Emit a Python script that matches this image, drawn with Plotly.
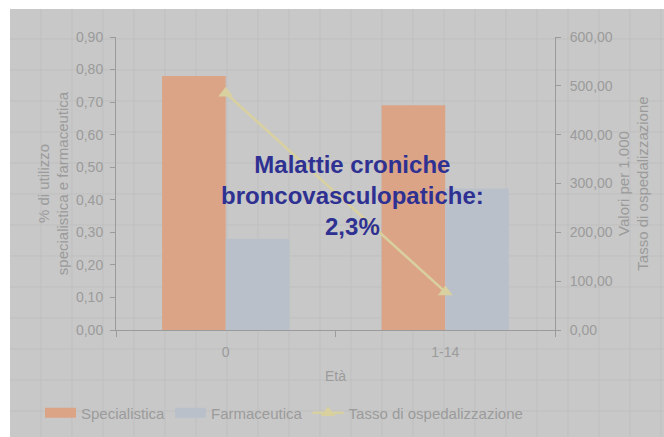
import plotly.graph_objects as go

eta = ['0', '1-14']
specialistica = [0.78, 0.69]
farmaceutica = [0.28, 0.435]
tasso_osp = [485, 78]

W, H = 664, 437
L, T = 116, 37
R, B = W - 555, H - 330
pw, ph = W - L - R, H - T - B

def px_x(x):
    return (x - L) / pw

def px_y(y):
    return (H - B - y) / ph

grigio = '#9b9b9b'
font = 'Liberation Sans, Arial, sans-serif'
col_spec, col_farm, col_tasso = '#dba486', '#b9c0ca', '#d9d0a0'

fig = go.Figure()
fig.add_trace(go.Bar(name='Specialistica', x=eta, y=specialistica, marker_color=col_spec,
                     marker_line_width=0, showlegend=False))
fig.add_trace(go.Bar(name='Farmaceutica', x=eta, y=farmaceutica, marker_color=col_farm,
                     marker_line_width=0, showlegend=False))
# voci di legenda con rettangoli larghi come nell'originale
fig.add_trace(go.Scatter(name='Specialistica', x=[None], y=[None], mode='lines',
                         line=dict(color=col_spec, width=10)))
fig.add_trace(go.Scatter(name='Farmaceutica', x=[None], y=[None], mode='lines',
                         line=dict(color=col_farm, width=10)))
fig.add_trace(go.Scatter(name='Tasso di ospedalizzazione', x=eta, y=tasso_osp, yaxis='y2',
                         mode='lines+markers', line=dict(color=col_tasso, width=2.5),
                         marker=dict(symbol='triangle-up', size=13, color=col_tasso)))

# bordo bianco in alto e a sinistra + texture a quadretti dello sfondo
shapes = [
    dict(type='rect', xref='paper', yref='paper', x0=px_x(0), x1=px_x(W), y0=px_y(0), y1=px_y(9),
         fillcolor='white', line_width=0, layer='below'),
    dict(type='rect', xref='paper', yref='paper', x0=px_x(0), x1=px_x(10), y0=px_y(0), y1=px_y(H),
         fillcolor='white', line_width=0, layer='below'),
]
for gx in range(41, W, 31):
    shapes.append(dict(type='line', xref='paper', yref='paper', x0=px_x(gx), x1=px_x(gx),
                       y0=px_y(9), y1=px_y(H), line=dict(color='#bfbfbf', width=1), layer='below'))
for gy in range(39, H, 31):
    shapes.append(dict(type='line', xref='paper', yref='paper', x0=px_x(10), x1=px_x(W),
                       y0=px_y(gy), y1=px_y(gy), line=dict(color='#bfbfbf', width=1), layer='below'))

fig.update_layout(
    width=W, height=H,
    margin=dict(l=L, r=R, t=T, b=B, autoexpand=False),
    paper_bgcolor='#c8c8c8', plot_bgcolor='rgba(0,0,0,0)',
    separators=',.',
    font=dict(family=font, size=14, color=grigio),
    barmode='group', bargap=0.42, bargroupgap=0,
    shapes=shapes,
    xaxis=dict(type='category', range=[-0.5, 1.5], showgrid=False, showline=True,
               linecolor=grigio, ticks='outside', tickson='boundaries', ticklen=6,
               tickcolor=grigio, ticklabelstandoff=9, automargin=False,
               title=dict(text='Età', standoff=12, font=dict(size=14, color=grigio))),
    yaxis=dict(range=[0, 0.9], dtick=0.1, tickformat='.2f', showgrid=False, zeroline=False,
               showline=True, linecolor=grigio, ticks='outside', ticklen=5, tickcolor=grigio,
               ticklabelstandoff=4, automargin=False,
               title=dict(text='% di utilizzo<br>specialistica e farmaceutica', standoff=3,
                          font=dict(size=15, color=grigio))),
    yaxis2=dict(range=[0, 600], dtick=100, tickformat='.2f', overlaying='y', side='right',
                showgrid=False, zeroline=False, showline=True, linecolor=grigio, ticks='outside',
                ticklen=5, tickcolor=grigio, ticklabelstandoff=6, automargin=False,
                title=dict(text='Valori per 1.000<br>Tasso di ospedalizzazione', standoff=6,
                           font=dict(size=15, color=grigio))),
    legend=dict(orientation='h', x=px_x(40), xanchor='left', y=px_y(413), yanchor='middle',
                bgcolor='rgba(0,0,0,0)', font=dict(size=15, color=grigio), itemwidth=31,
                tracegroupgap=0),
    annotations=[dict(text='<b>Malattie croniche<br>broncovasculopatiche:<br>2,3%</b>',
                      xref='paper', yref='paper', x=px_x(352), y=px_y(195),
                      showarrow=False, font=dict(family=font, size=24, color='#2e3192'),
                      align='center')],
)

# niente margine del body: la figura occupa esattamente la finestra
fig.write_html('out.html', config={'displayModeBar': False},
               post_script="document.body.style.margin='0';"
                           "Plotly.relayout('{plot_id}', {width: 664, height: 437});")
